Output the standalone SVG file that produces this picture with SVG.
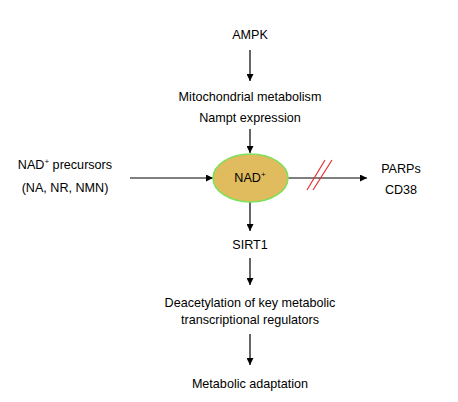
<svg xmlns="http://www.w3.org/2000/svg" width="458" height="402" viewBox="0 0 458 402">
<style>
text{font-family:"Liberation Sans",Arial,sans-serif;font-size:12.6px;fill:#000;text-anchor:middle}
.c line{stroke:#000;stroke-width:1.2}
</style>
<defs>
<marker id="a" viewBox="0 0 10 10" refX="10" refY="5" markerWidth="7" markerHeight="7" orient="auto" markerUnits="userSpaceOnUse"><path d="M0,0L10,5L0,10z" fill="#000"/></marker>
</defs>
<rect width="458" height="402" fill="#fff"/>
<g class="c" id="connectors">
<line x1="250" y1="50" x2="250" y2="81" marker-end="url(#a)"/>
<line x1="250" y1="129" x2="250" y2="153" marker-end="url(#a)"/>
<line x1="130" y1="178" x2="213" y2="178" marker-end="url(#a)"/>
<line x1="288" y1="178" x2="367" y2="178" marker-end="url(#a)"/>
<line x1="250" y1="202" x2="250" y2="231" marker-end="url(#a)"/>
<line x1="250" y1="258" x2="250" y2="285" marker-end="url(#a)"/>
<line x1="250" y1="334" x2="250" y2="365" marker-end="url(#a)"/>
<line x1="307" y1="190" x2="325" y2="160" style="stroke:#e53030"/>
<line x1="313" y1="190" x2="332" y2="160" style="stroke:#e53030"/>
</g>
<g id="ampk"><text x="250" y="39">AMPK</text></g>
<g id="mito"><text x="250" y="101">Mitochondrial metabolism</text><text x="250" y="122">Nampt expression</text></g>
<g id="nad"><ellipse cx="250.5" cy="178" rx="37.5" ry="24" fill="#e1bc5e" stroke="#7ee05a" stroke-width="1.5"/><text x="250" y="182">NAD<tspan font-size="8" dy="-5">+</tspan></text></g>
<g id="precursors"><text x="65" y="169">NAD<tspan font-size="8" dy="-5">+</tspan><tspan dy="5"> precursors</tspan></text><text x="65" y="192">(NA, NR, NMN)</text></g>
<g id="parps"><text x="401" y="173">PARPs</text><text x="401" y="194">CD38</text></g>
<g id="sirt1"><text x="250" y="249">SIRT1</text></g>
<g id="deacetyl"><text x="250" y="307">Deacetylation of key metabolic</text><text x="250" y="324">transcriptional regulators</text></g>
<g id="adapt"><text x="250" y="388">Metabolic adaptation</text></g>
</svg>
